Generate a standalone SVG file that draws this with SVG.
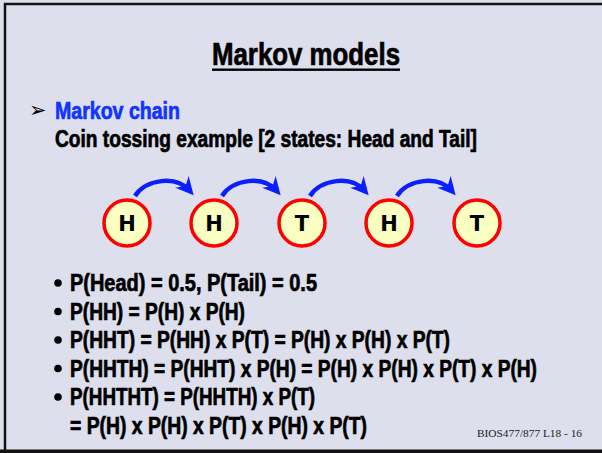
<svg xmlns="http://www.w3.org/2000/svg" width="602" height="453" viewBox="0 0 602 453">
<style>
.b{font-family:"Liberation Sans Narrow","Liberation Sans",Arial,sans-serif;font-weight:bold;fill:#000;stroke:#000;stroke-width:0.7}
.st circle{fill:#FAFFC2;stroke:#FF0000;stroke-width:3.5}
.st text{font-family:"DejaVu Sans",sans-serif;font-weight:bold;font-size:21px;fill:#000;text-anchor:middle}
.arr{fill:none;stroke:#0A1EFF;stroke-width:4.5;marker-end:url(#ah)}
</style>
<defs>
<marker id="ah" markerUnits="userSpaceOnUse" markerWidth="20" markerHeight="20" viewBox="0 0 18 18" refX="11" refY="9" orient="auto">
<path d="M0,1 L16,9 L0,17 L5,9 Z" fill="#0A1EFF"/>
</marker>
</defs>
<rect x="0" y="0" width="602" height="453" fill="#DDDFED"/>
<line x1="4" y1="4" x2="602" y2="4" stroke="#111" stroke-width="2.5"/>
<line x1="5" y1="3" x2="5" y2="453" stroke="#111" stroke-width="2.5"/>
<rect x="0" y="449.5" width="602" height="3.5" fill="#111"/>

<g id="title">
<text class="b" x="212" y="65" font-size="31" textLength="188" lengthAdjust="spacingAndGlyphs">Markov models</text>
<rect x="212" y="68.5" width="188" height="2.4" fill="#000"/>
</g>

<g id="heading">
<text x="29" y="117" font-family="DejaVu Sans,sans-serif" font-size="21" fill="#000">➢</text>
<text class="b" x="55" y="119" font-size="23.5" style="fill:#1133FF;stroke:#1133FF" textLength="125" lengthAdjust="spacingAndGlyphs">Markov chain</text>
<text class="b" x="55" y="147" font-size="23.5" textLength="422" lengthAdjust="spacingAndGlyphs">Coin tossing example [2 states: Head and Tail]</text>
</g>

<g id="connectors">
<path class="arr" d="M135,196 C146,179 176,175 190,191"/>
<path class="arr" d="M222,196 C233,179 263,175 277,191"/>
<path class="arr" d="M310,196 C321,179 351,175 365,191"/>
<path class="arr" d="M397,196 C408,179 438,175 452,191"/>
</g>

<g id="s1" class="st"><circle cx="127" cy="223" r="23"/><text x="127" y="231">H</text></g>
<g id="s2" class="st"><circle cx="214" cy="223" r="23"/><text x="214" y="231">H</text></g>
<g id="s3" class="st"><circle cx="302" cy="223" r="23"/><text x="302" y="231">T</text></g>
<g id="s4" class="st"><circle cx="389" cy="223" r="23"/><text x="389" y="231">H</text></g>
<g id="s5" class="st"><circle cx="477" cy="223" r="23"/><text x="477" y="231">T</text></g>

<g id="bullets">
<circle cx="58" cy="283" r="3.8" fill="#000"/>
<circle cx="58" cy="311.5" r="3.8" fill="#000"/>
<circle cx="58" cy="340" r="3.8" fill="#000"/>
<circle cx="58" cy="368.5" r="3.8" fill="#000"/>
<circle cx="58" cy="397" r="3.8" fill="#000"/>
<text class="b" x="70" y="291" font-size="23.5" textLength="247" lengthAdjust="spacingAndGlyphs">P(Head) = 0.5, P(Tail) = 0.5</text>
<text class="b" x="70" y="319.5" font-size="23.5" textLength="175" lengthAdjust="spacingAndGlyphs">P(HH) = P(H) x P(H)</text>
<text class="b" x="70" y="348" font-size="23.5" textLength="380" lengthAdjust="spacingAndGlyphs">P(HHT) = P(HH) x P(T) = P(H) x P(H) x P(T)</text>
<text class="b" x="70" y="376.5" font-size="23.5" textLength="467" lengthAdjust="spacingAndGlyphs">P(HHTH) = P(HHT) x P(H) = P(H) x P(H) x P(T) x P(H)</text>
<text class="b" x="70" y="405" font-size="23.5" textLength="245" lengthAdjust="spacingAndGlyphs">P(HHTHT) = P(HHTH) x P(T)</text>
<text class="b" x="70" y="434" font-size="23.5" textLength="297" lengthAdjust="spacingAndGlyphs">= P(H) x P(H) x P(T) x P(H) x P(T)</text>
</g>

<text x="477" y="437" font-family="Liberation Serif,serif" font-size="11" fill="#222" textLength="105" lengthAdjust="spacingAndGlyphs">BIOS477/877 L18 - 16</text>
</svg>
